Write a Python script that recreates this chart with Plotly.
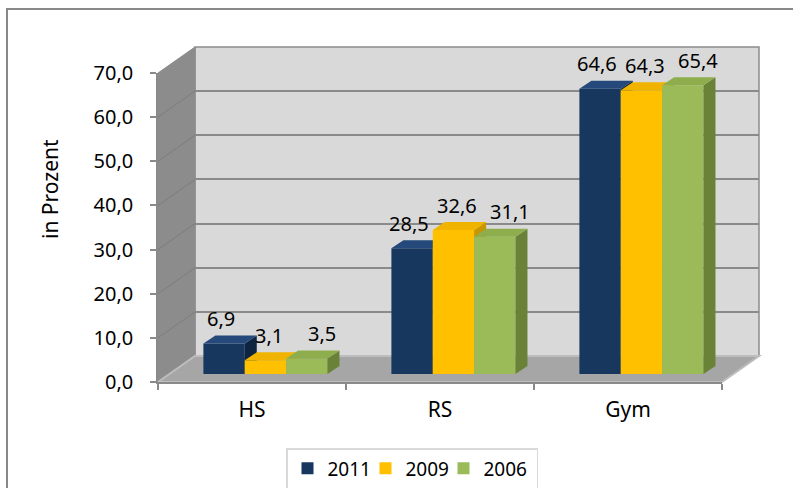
import plotly.graph_objects as go

# ---------------- data ----------------
categories = ["HS", "RS", "Gym"]
series_names = ["2011", "2009", "2006"]
values_2011 = [6.9, 28.5, 64.6]
values_2009 = [3.1, 32.6, 64.3]
values_2006 = [3.5, 31.1, 65.4]
value_labels_2011 = ["6,9", "28,5", "64,6"]
value_labels_2009 = ["3,1", "32,6", "64,3"]
value_labels_2006 = ["3,5", "31,1", "65,4"]
y_tick_values = [0, 10, 20, 30, 40, 50, 60, 70]
y_tick_labels = ["0,0", "10,0", "20,0", "30,0", "40,0", "50,0", "60,0", "70,0"]
y_title = "in Prozent"

# ---------------- styling / geometry ----------------
W, H = 793, 488
FONT = "Noto Sans"


def px_x(x):
    return x / W


def px_y(y):
    return 1 - y / H


# front plane (axis ticks)
FX0, FX1 = 158, 722
FY0, FY70 = 382, 73
# back wall offset (depth of the 3D box)
DDX, DDY = 37, 26
# bar plane offset
BDX, BDY = 12.5, 8
# bar 3D depth in pixels
BAR_DEPTH_X, BAR_DEPTH_Y = 12, 8

cat_px = (FX1 - FX0) / len(categories)
unit_px = (FY0 - FY70) / (y_tick_values[-1] - y_tick_values[0])
face_dx = BAR_DEPTH_X / cat_px
face_dy = BAR_DEPTH_Y / unit_px

front_colors = ["#17375e", "#ffc000", "#9bbb59"]
top_colors = ["#24497a", "#f0b400", "#8eae4e"]
side_colors = ["#0e2541", "#c89600", "#6a8237"]
bar_width = 0.22
bar_offsets = [-0.325, -0.105, 0.115]
label_xshift = [-3, 4, 15]
legend_widths = [33, 33, 48]

grid_color = "#8a8a8a"

all_values = [values_2011, values_2009, values_2006]
all_labels = [value_labels_2011, value_labels_2009, value_labels_2006]
idx = list(range(len(categories)))

fig = go.Figure()

# back wall subplot (gridlines) - first so it is painted first
fig.add_trace(go.Scatter(x=[None], y=[None], xaxis="x", yaxis="y",
                         showlegend=False, hoverinfo="skip"))

annotations = []
for s, (name, vals, labs) in enumerate(zip(series_names, all_values, all_labels)):
    ax_n = s + 2
    xa, ya = f"x{ax_n}", f"y{ax_n}"
    fig.add_trace(go.Bar(
        x=idx, y=vals, name=name, width=bar_width, offset=bar_offsets[s],
        marker=dict(color=front_colors[s], line=dict(width=0)),
        xaxis=xa, yaxis=ya, hoverinfo="skip", legendwidth=legend_widths[s],
    ))
    # top and side faces computed from the values
    tx, ty, sx, sy = [], [], [], []
    for i, v in zip(idx, vals):
        x0 = i + bar_offsets[s]
        x1 = x0 + bar_width
        tx += [x0, x1, x1 + face_dx, x0 + face_dx, x0, None]
        ty += [v, v, v + face_dy, v + face_dy, v, None]
        sx += [x1, x1 + face_dx, x1 + face_dx, x1, x1, None]
        sy += [0, face_dy, v + face_dy, v, 0, None]
    fig.add_trace(go.Scatter(x=sx, y=sy, fill="toself", mode="lines",
                             line=dict(width=0, color=side_colors[s]),
                             fillcolor=side_colors[s], xaxis=xa, yaxis=ya,
                             showlegend=False, hoverinfo="skip"))
    fig.add_trace(go.Scatter(x=tx, y=ty, fill="toself", mode="lines",
                             line=dict(width=0, color=top_colors[s]),
                             fillcolor=top_colors[s], xaxis=xa, yaxis=ya,
                             showlegend=False, hoverinfo="skip"))
    for i, v, lab in zip(idx, vals, labs):
        annotations.append(dict(
            x=i + bar_offsets[s] + bar_width / 2, y=v, xref=xa, yref=ya,
            text=lab, showarrow=False, yshift=25, xshift=label_xshift[s],
            font=dict(family=FONT, size=20, color="black"),
            xanchor="center", yanchor="middle",
        ))

# front axes subplot
fig.add_trace(go.Scatter(x=categories, y=[None] * len(categories),
                         xaxis="x5", yaxis="y5", showlegend=False,
                         hoverinfo="skip"))

annotations.append(dict(
    x=px_x(50), y=px_y(189), xref="paper", yref="paper", text=y_title,
    textangle=-90, showarrow=False, xanchor="center", yanchor="middle",
    font=dict(family=FONT, size=21, color="black"),
))

# ---------------- decorative 3D frame ----------------
shapes = []
# chart border (left and top edges visible in the crop)
shapes.append(dict(type="path", xref="paper", yref="paper",
                   path=f"M{px_x(7)},0 L{px_x(7)},{px_y(9)} L1,{px_y(9)}",
                   line=dict(color="#898989", width=2), layer="below"))
# back wall
shapes.append(dict(type="rect", xref="paper", yref="paper",
                   x0=px_x(FX0 + DDX), x1=px_x(FX1 + DDX),
                   y0=px_y(FY0 - DDY), y1=px_y(FY70 - DDY),
                   fillcolor="#d9d9d9", line=dict(color="#8c8c8c", width=1.5),
                   layer="below"))
# left wall
shapes.append(dict(type="path", xref="paper", yref="paper",
                   path=(f"M{px_x(FX0)},{px_y(FY0)} L{px_x(FX0)},{px_y(FY70)} "
                         f"L{px_x(FX0 + DDX)},{px_y(FY70 - DDY)} "
                         f"L{px_x(FX0 + DDX)},{px_y(FY0 - DDY)} Z"),
                   fillcolor="#8c8c8c", line=dict(color="#8c8c8c", width=1),
                   layer="below"))
# left wall gridlines
for t in y_tick_values[1:-1]:
    yf = FY0 - (t - y_tick_values[0]) * unit_px
    shapes.append(dict(type="line", xref="paper", yref="paper",
                       x0=px_x(FX0), y0=px_y(yf), x1=px_x(FX0 + DDX), y1=px_y(yf - DDY),
                       line=dict(color="#7d7d7d", width=1), layer="below"))
# floor
shapes.append(dict(type="path", xref="paper", yref="paper",
                   path=(f"M{px_x(FX0)},{px_y(FY0)} L{px_x(FX0 + DDX)},{px_y(FY0 - DDY)} "
                         f"L{px_x(FX1 + DDX)},{px_y(FY0 - DDY)} L{px_x(FX1)},{px_y(FY0)} Z"),
                   fillcolor="#a6a6a6", line=dict(color="#bdbdbd", width=2),
                   layer="below"))

# ---------------- axes ----------------
hidden_x = dict(range=[-0.5, len(categories) - 0.5], visible=False,
                fixedrange=True, automargin=False)

layout = dict(
    width=W, height=H, autosize=False,
    margin=dict(l=0, r=0, t=0, b=0, pad=0, autoexpand=False),
    paper_bgcolor="white", plot_bgcolor="rgba(0,0,0,0)",
    barmode="overlay", showlegend=True,
    font=dict(family=FONT, color="black"),
    shapes=shapes, annotations=annotations,
    legend=dict(orientation="h", x=px_x(286), xanchor="left",
                y=px_y(448), yanchor="top", bgcolor="white",
                bordercolor="#d9d9d9", borderwidth=1.5,
                font=dict(family=FONT, size=19, color="black"),
                itemwidth=30, traceorder="normal"),
    # back wall
    xaxis=dict(domain=[px_x(FX0 + DDX), px_x(FX1 + DDX)], anchor="y", **hidden_x),
    yaxis=dict(domain=[px_y(FY0 - DDY), px_y(FY70 - DDY)], anchor="x",
               range=[0, 70], tickvals=y_tick_values, showticklabels=False,
               ticks="", showgrid=True, gridcolor=grid_color, gridwidth=1.5,
               zeroline=False, showline=False, fixedrange=True, automargin=False),
    # front axes
    xaxis5=dict(domain=[px_x(FX0), px_x(FX1)], anchor="y5", type="category",
                categoryorder="array", categoryarray=categories,
                range=[-0.5, len(categories) - 0.5], tickson="boundaries",
                ticks="outside", ticklen=6, tickwidth=1.5, tickcolor=grid_color,
                showline=True, linecolor=grid_color, linewidth=1.5,
                showgrid=False, zeroline=False, fixedrange=True, automargin=False,
                ticklabelstandoff=8,
                tickfont=dict(family=FONT, size=21, color="black")),
    yaxis5=dict(domain=[px_y(FY0), px_y(FY70)], anchor="x5",
                range=[0, 70], tickvals=y_tick_values, ticktext=y_tick_labels,
                ticks="outside", ticklen=6, tickwidth=1.5, tickcolor=grid_color,
                showline=True, linecolor=grid_color, linewidth=1.5,
                showgrid=False, zeroline=False, fixedrange=True, automargin=False,
                ticklabelstandoff=13,
                tickfont=dict(family=FONT, size=20, color="black")),
)
for s in range(len(series_names)):
    n = s + 2
    layout[f"xaxis{n}"] = dict(domain=[px_x(FX0 + BDX), px_x(FX1 + BDX)],
                               anchor=f"y{n}", **hidden_x)
    layout[f"yaxis{n}"] = dict(domain=[px_y(FY0 - BDY), px_y(FY70 - BDY)],
                               anchor=f"x{n}", range=[0, 70], visible=False,
                               fixedrange=True, automargin=False)

fig.update_layout(**layout)
fig.write_html("out.html", config={"displayModeBar": False},
               post_script="document.body.style.margin='0px';")
